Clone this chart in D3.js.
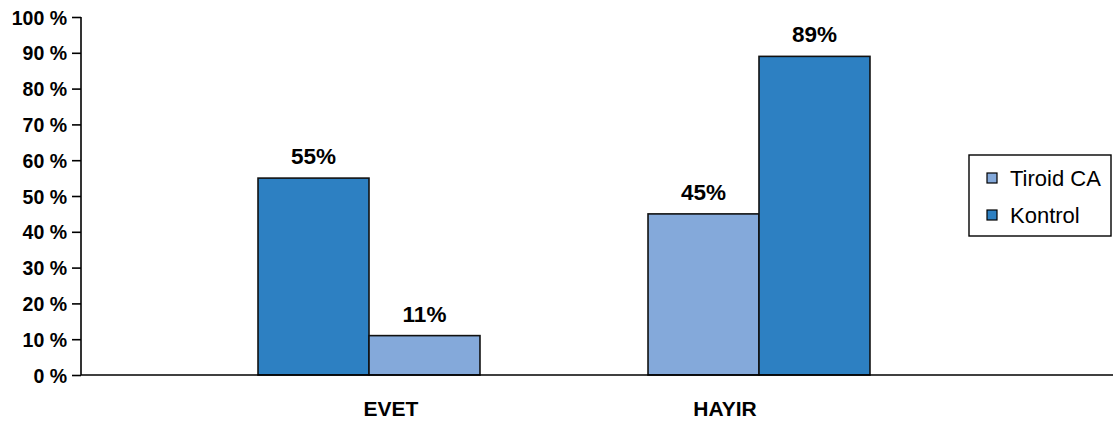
<!DOCTYPE html>
<html><head><meta charset="utf-8">
<script src="https://cdn.jsdelivr.net/npm/d3@7"></script>
<style>body{margin:0;background:#fff}svg{display:block}text{font-family:Arial,"Liberation Sans",sans-serif}</style>
</head><body>
<svg id="c" width="1113" height="423"></svg>
<script>
const categories = ["EVET", "HAYIR"];
const seriesNames = ["Tiroid CA", "Kontrol"];
const tiroidValues = [55, 45];
const kontrolValues = [11, 89];
const valueLabels = [["55%", "45%"], ["11%", "89%"]];
const yTicks = [0, 10, 20, 30, 40, 50, 60, 70, 80, 90, 100];

const seriesValues = [tiroidValues, kontrolValues];
const colors = ["#84A9DA", "#2D80C2"];
// in the original the EVET group has its two bar colours swapped
const pointColor = (si, ci) => ci === 0 ? colors[1 - si] : colors[si];

const svg = d3.select("#c");
const mLeft = 81, mRight = 1113, mTop = 17, mBottom = 375;

const y = d3.scaleLinear().domain([0, 100]).range([mBottom, mTop]);
const x0 = d3.scaleBand().domain(categories).range([174, 954]).padding(0);
const x1 = d3.scaleBand().domain(d3.range(seriesNames.length)).range([0, x0.bandwidth()]).paddingOuter(0.757).paddingInner(0);

// y axis
const yAxis = d3.axisLeft(y).tickValues(yTicks).tickSize(9).tickFormat(d => d + " %");
const gy = svg.append("g").attr("transform", `translate(${mLeft},0)`).call(yAxis);
gy.select(".domain").remove();
gy.selectAll(".tick line").attr("stroke", "#000").attr("stroke-width", 1.6);
gy.selectAll(".tick text").attr("x", -14).attr("dy", "0.36em")
  .style("font-size", "19.5px").style("font-weight", "bold").attr("fill", "#000");
svg.append("line").attr("x1", mLeft).attr("x2", mLeft).attr("y1", y(100)).attr("y2", mBottom)
  .attr("stroke", "#000").attr("stroke-width", 1.6);

// bars
const groups = svg.selectAll("g.grp").data(categories).enter().append("g")
  .attr("class", "grp").attr("transform", d => `translate(${x0(d)},0)`);
seriesNames.forEach((s, si) => {
  groups.append("rect")
    .attr("x", x1(si))
    .attr("width", x1.bandwidth())
    .attr("y", (d, ci) => y(seriesValues[si][ci]))
    .attr("height", (d, ci) => mBottom - y(seriesValues[si][ci]))
    .attr("fill", (d, ci) => pointColor(si, ci))
    .attr("stroke", "#111").attr("stroke-width", 1.6);
  groups.append("text")
    .attr("x", x1(si) + x1.bandwidth() / 2)
    .attr("y", (d, ci) => y(seriesValues[si][ci]) - 14)
    .attr("text-anchor", "middle")
    .style("font-size", "22.5px").style("font-weight", "bold")
    .text((d, ci) => valueLabels[si][ci]);
});

// x axis
svg.append("line").attr("x1", mLeft).attr("x2", mRight).attr("y1", mBottom).attr("y2", mBottom)
  .attr("stroke", "#000").attr("stroke-width", 1.6);
const labelShift = [22, -34];
svg.selectAll("text.cat").data(categories).enter().append("text").attr("class", "cat")
  .attr("x", (d, i) => x0(d) + x0.bandwidth() / 2 + labelShift[i])
  .attr("y", 416)
  .attr("text-anchor", "middle")
  .style("font-size", "21px").style("font-weight", "bold")
  .text(d => d);

// legend
const lg = svg.append("g").attr("transform", "translate(969,155)");
lg.append("rect").attr("width", 142).attr("height", 81).attr("fill", "#fff")
  .attr("stroke", "#000").attr("stroke-width", 1.4);
seriesNames.forEach((s, i) => {
  const cy = 23 + i * 37;
  lg.append("rect").attr("x", 18).attr("y", cy - 5).attr("width", 10).attr("height", 10)
    .attr("fill", colors[i]).attr("stroke", "#000").attr("stroke-width", 1.2);
  lg.append("text").attr("x", 41).attr("y", cy).attr("dy", "0.36em")
    .style("font-size", "22px").text(s);
});
</script>
</body></html>
